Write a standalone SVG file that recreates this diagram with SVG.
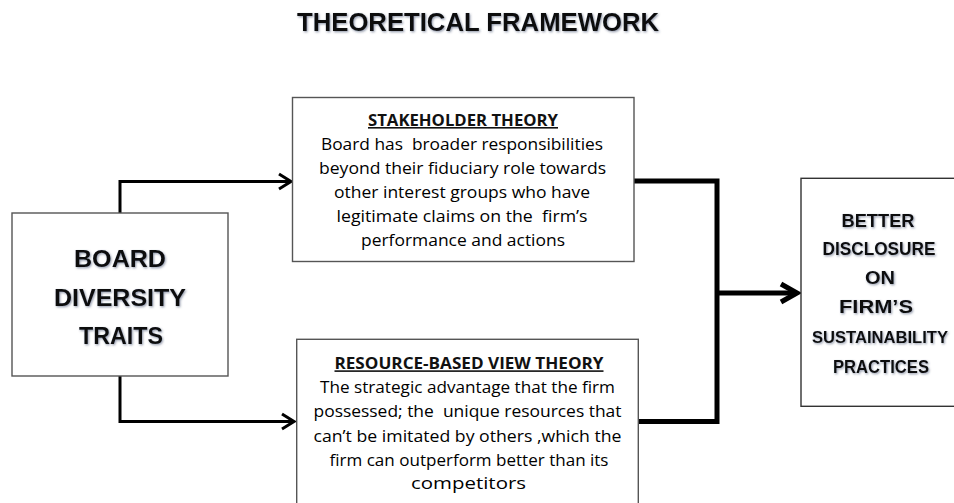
<svg xmlns="http://www.w3.org/2000/svg" width="954" height="503" viewBox="0 0 954 503">
<style>
text{white-space:pre}
.box{fill:#fff;stroke:#555;stroke-width:1.4}
.body{font-family:"Open Sans","Liberation Sans",sans-serif;font-size:16.5px;fill:#000;text-anchor:middle}
.head{font-family:"Open Sans","Liberation Sans",sans-serif;font-size:16px;font-weight:bold;fill:#111;text-anchor:middle;text-decoration:underline}
.big{font-family:"Liberation Sans",Arial,sans-serif;font-weight:bold;fill:#111;text-anchor:middle;filter:url(#sh)}
.thin{fill:none;stroke:#000;stroke-width:3;stroke-linejoin:miter}
.thick{fill:none;stroke:#000;stroke-width:5;stroke-linejoin:miter}
</style>
<defs>
<filter id="sh" x="-5%" y="-20%" width="110%" height="150%">
<feDropShadow dx="1" dy="1.2" stdDeviation="0.9" flood-color="#3a4a66" flood-opacity="0.55"/>
</filter>
</defs>
<rect width="954" height="503" fill="#fff"/>
<g id="title">
<text class="big" x="478" y="31" font-size="26" textLength="362" lengthAdjust="spacingAndGlyphs">THEORETICAL FRAMEWORK</text>
</g>
<g id="connectors">
<polyline class="thin" points="120,213 120,181.5 290,181.5"/>
<polyline class="thin" points="279,174 291,181.5 279,189"/>
<polyline class="thin" points="120,376 120,421.5 293,421.5"/>
<polyline class="thin" points="282,414 294,421.5 282,429"/>
<polyline class="thick" points="634,181 717,181 717,421.5 638,421.5"/>
<line class="thick" x1="717" y1="293" x2="796" y2="293"/>
<polyline class="thick" points="781,284 797,293 781,302"/>
</g>
<g id="board">
<rect class="box" x="12" y="213" width="216" height="163"/>
<text class="big" font-size="24.5" x="120" y="267" textLength="92" lengthAdjust="spacingAndGlyphs">BOARD</text>
<text class="big" font-size="24.5" x="120" y="306" textLength="132" lengthAdjust="spacingAndGlyphs">DIVERSITY</text>
<text class="big" font-size="24.5" x="121" y="344" textLength="84" lengthAdjust="spacingAndGlyphs">TRAITS</text>
</g>
<g id="stakeholder">
<rect class="box" x="292.5" y="97.5" width="341.5" height="164"/>
<text class="head" x="463" y="126" textLength="190" lengthAdjust="spacingAndGlyphs">STAKEHOLDER THEORY</text>
<text class="body" x="462" y="150.3" textLength="282" lengthAdjust="spacingAndGlyphs">Board has  broader responsibilities</text>
<text class="body" x="462.5" y="174" textLength="287" lengthAdjust="spacingAndGlyphs">beyond their fiduciary role towards</text>
<text class="body" x="462" y="197.7" textLength="256" lengthAdjust="spacingAndGlyphs">other interest groups who have</text>
<text class="body" x="462" y="221.7" textLength="251" lengthAdjust="spacingAndGlyphs">legitimate claims on the  firm’s</text>
<text class="body" x="463" y="245.7" textLength="204" lengthAdjust="spacingAndGlyphs">performance and actions</text>
</g>
<g id="resource">
<rect class="box" x="296.7" y="339.3" width="341.6" height="175"/>
<text class="head" x="469" y="369.3" textLength="269" lengthAdjust="spacingAndGlyphs">RESOURCE-BASED VIEW THEORY</text>
<text class="body" x="467.5" y="393.3" textLength="295" lengthAdjust="spacingAndGlyphs">The strategic advantage that the firm</text>
<text class="body" x="467.5" y="417.3" textLength="308" lengthAdjust="spacingAndGlyphs">possessed; the  unique resources that</text>
<text class="body" x="467.5" y="441.5" textLength="308" lengthAdjust="spacingAndGlyphs">can’t be imitated by others ,which the</text>
<text class="body" x="469" y="465.5" textLength="279" lengthAdjust="spacingAndGlyphs">firm can outperform better than its</text>
<text class="body" x="468.5" y="489.3" textLength="115" lengthAdjust="spacingAndGlyphs">competitors</text>
</g>
<g id="disclosure">
<rect class="box" x="801" y="178.3" width="170" height="228" style="stroke:#333"/>
<text class="big" font-size="18" x="878" y="226.7" textLength="73" lengthAdjust="spacingAndGlyphs">BETTER</text>
<text class="big" font-size="18" x="879" y="255" textLength="113" lengthAdjust="spacingAndGlyphs">DISCLOSURE</text>
<text class="big" font-size="18" x="880" y="284" textLength="30" lengthAdjust="spacingAndGlyphs">ON</text>
<text class="big" font-size="18" x="876" y="313.3" textLength="74" lengthAdjust="spacingAndGlyphs">FIRM’S</text>
<text class="big" font-size="17" x="880" y="342.7" textLength="136" lengthAdjust="spacingAndGlyphs">SUSTAINABILITY</text>
<text class="big" font-size="18" x="881" y="372.7" textLength="96" lengthAdjust="spacingAndGlyphs">PRACTICES</text>
</g>
</svg>
